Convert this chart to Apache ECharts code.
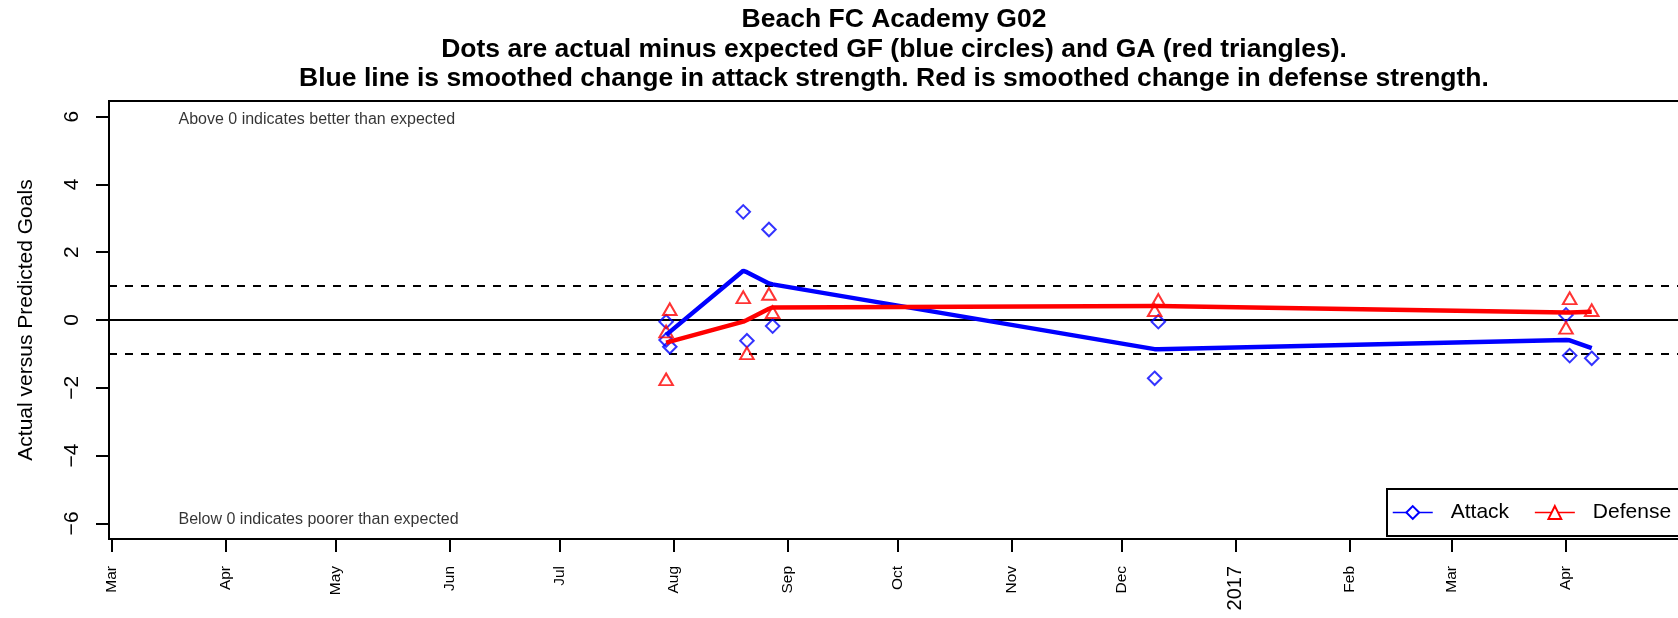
<!DOCTYPE html>
<html><head><meta charset="utf-8">
<script src="https://cdn.jsdelivr.net/npm/echarts@6/dist/echarts.min.js"></script>
<style>html,body{margin:0;padding:0;background:#fff}#c{width:1678px;height:618px}</style>
</head><body><div id="c"></div>
<script>
// ---- text ----
const titleLines = [
  'Beach FC Academy G02',
  'Dots are actual minus expected GF (blue circles) and GA (red triangles).',
  'Blue line is smoothed change in attack strength. Red is smoothed change in defense strength.'
];
const yAxisTitle = 'Actual versus Predicted Goals';
const noteAbove = 'Above 0 indicates better than expected';
const noteBelow = 'Below 0 indicates poorer than expected';
const legendNames = ['Attack', 'Defense'];

// ---- data: one entry per game ----
const gameDates = ['2016-07-30','2016-07-30','2016-07-31','2016-08-20','2016-08-21','2016-08-27','2016-08-28','2016-12-10','2016-12-11','2017-04-01','2017-04-02','2017-04-08'];
const gfDiff = [-0.05,-0.59,-0.79, 3.19,-0.61, 2.67,-0.18,-1.72,-0.05, 0.15,-1.05,-1.13];
const gaDiff = [-0.34,-1.75, 0.32, 0.67,-0.98, 0.77, 0.23, 0.29, 0.59,-0.23, 0.64, 0.29];

// ---- smoothed strength changes ----
const smoothDates = ['2016-07-30','2016-07-31','2016-08-20','2016-08-21','2016-08-27','2016-08-28','2016-12-10','2016-12-11','2017-04-01','2017-04-02','2017-04-08'];
const attackSmooth = [-0.44,-0.35, 1.45, 1.41, 1.08, 1.05,-0.86,-0.86,-0.59,-0.60,-0.83];
const defenseSmooth = [-0.67,-0.64,-0.05, 0.00, 0.33, 0.37, 0.41, 0.41, 0.22, 0.22, 0.24];

// ---- axes ----
const xTickDates = ['2016-03-01','2016-04-01','2016-05-01','2016-06-01','2016-07-01','2016-08-01','2016-09-01','2016-10-01','2016-11-01','2016-12-01','2017-01-01','2017-02-01','2017-03-01','2017-04-01'];
const xTickLabels = ['Mar','Apr','May','Jun','Jul','Aug','Sep','Oct','Nov','Dec','2017','Feb','Mar','Apr'];
const yTicks = [-6, -4, -2, 0, 2, 4, 6];
const yLimits = [-6.46, 6.46];
const zeroLine = 0;
const bandLines = [-1, 1];
const noteY = [5.9, -5.9];

const DAY = 86400000;
function parseDate(s) { const p = s.split('-'); return Date.UTC(+p[0], +p[1] - 1, +p[2]); }
const xTicks = xTickDates.map(parseDate);
const xMin = parseDate('2016-03-01') - 0.68 * DAY;
const xMax = xMin + 427.44 * DAY;
const noteX = parseDate('2016-03-01') + 18.1 * DAY;

const FONT = '"Liberation Sans", Arial, Helvetica, sans-serif';
const BLUE = '#0000ff', RED = '#ff0000';

const chart = echarts.init(document.getElementById('c'), null, {renderer: 'canvas'});
chart.setOption({
  animation: false,
  backgroundColor: '#ffffff',
  textStyle: {fontFamily: FONT, color: '#000'},
  title: {
    text: titleLines.join('\n'),
    left: 894, top: 5, textAlign: 'center', padding: 0,
    textStyle: {fontSize: 26.5, fontWeight: 'bold', lineHeight: 29.5, color: '#000', fontFamily: FONT}
  },
  grid: {left: 109, right: -1, top: 101, bottom: 79, show: true, borderColor: '#000', borderWidth: 2, containLabel: false, outerBoundsMode: 'none'},
  legend: {
    data: legendNames,
    left: 1387, top: 489, width: 300, orient: 'horizontal',
    padding: [13, 10, 13, 5], itemGap: 25, itemWidth: 40, itemHeight: 16,
    borderColor: '#000', borderWidth: 2, borderRadius: 0, backgroundColor: '#fff',
    lineStyle: {width: 1.5},
    textStyle: {fontSize: 21, color: '#000', fontFamily: FONT, padding: [0, 0, 0, 13]},
    selectedMode: false
  },
  xAxis: {
    type: 'value', min: xMin, max: xMax, scale: true,
    axisLine: {show: true, onZero: false, lineStyle: {color: '#000', width: 2}},
    axisTick: {show: true, customValues: xTicks, length: 13, lineStyle: {color: '#000', width: 2}},
    axisLabel: {
      customValues: xTicks, rotate: 90, margin: 27, color: '#000', fontSize: 15.5, fontFamily: FONT,
      formatter: function (v) {
        let i = -1;
        for (let k = 0; k < xTicks.length; k++) { if (Math.abs(xTicks[k] - v) < DAY / 2) { i = k; break; } }
        const t = i >= 0 ? xTickLabels[i] : '';
        return /^\d+$/.test(t) ? '{y|' + t + '}' : '{m|' + t + '}';
      },
      rich: {m: {fontSize: 15.5, fontFamily: FONT, color: '#000'}, y: {fontSize: 20, fontFamily: FONT, color: '#000'}}
    },
    splitLine: {show: false}
  },
  yAxis: {
    type: 'value', min: yLimits[0], max: yLimits[1],
    name: yAxisTitle, nameLocation: 'middle', nameGap: 72, nameRotate: 90,
    nameTextStyle: {fontSize: 21, color: '#000', fontFamily: FONT},
    axisLine: {show: true, onZero: false, lineStyle: {color: '#000', width: 2}},
    axisTick: {show: true, customValues: yTicks, length: 13, lineStyle: {color: '#000', width: 2}},
    axisLabel: {
      customValues: yTicks, rotate: 90, margin: 26, color: '#000', fontSize: 21, fontFamily: FONT,
      formatter: function (v) { return String(v).replace('-', '\u2212'); }
    },
    splitLine: {show: false}
  },
  series: [
    {
      name: 'Attack', type: 'line', z: 4, silent: true,
      data: smoothDates.map((d, i) => [parseDate(d), attackSmooth[i]]),
      symbol: 'emptyDiamond', showSymbol: false,
      lineStyle: {color: BLUE, width: 4.5}, itemStyle: {color: BLUE}
    },
    {
      name: 'Defense', type: 'line', z: 5, silent: true,
      data: smoothDates.map((d, i) => [parseDate(d), defenseSmooth[i]]),
      symbol: 'emptyTriangle', showSymbol: false,
      lineStyle: {color: RED, width: 4.5}, itemStyle: {color: RED}
    },
    {
      name: 'GF', type: 'scatter', z: 3, silent: true,
      data: gameDates.map((d, i) => [parseDate(d), gfDiff[i]]),
      symbol: 'diamond', symbolSize: 13.5,
      itemStyle: {color: 'rgba(0,0,0,0)', borderColor: BLUE, borderWidth: 2}
    },
    {
      name: 'GA', type: 'scatter', z: 3, silent: true,
      data: gameDates.map((d, i) => [parseDate(d), gaDiff[i]]),
      symbol: 'triangle', symbolSize: [13.5, 11.7],
      itemStyle: {color: 'rgba(0,0,0,0)', borderColor: RED, borderWidth: 2}
    },
    {
      name: 'notes', type: 'scatter', z: 2, silent: true,
      data: [[noteX, noteY[0], noteAbove], [noteX, noteY[1], noteBelow]],
      symbolSize: 1, itemStyle: {color: 'rgba(0,0,0,0)'},
      label: {show: true, position: 'right', distance: 0, fontSize: 16, color: '#000', fontFamily: FONT,
        formatter: p => p.data[2]},
      markLine: {
        silent: true, symbol: ['none', 'none'], label: {show: false}, z: 1,
        data: [
          {yAxis: zeroLine, lineStyle: {color: '#000', width: 2, type: 'solid'}},
          {yAxis: bandLines[0], lineStyle: {color: '#000', width: 2, type: [8, 8]}},
          {yAxis: bandLines[1], lineStyle: {color: '#000', width: 2, type: [8, 8]}}
        ]
      }
    }
  ]
});
</script>
</body></html>
